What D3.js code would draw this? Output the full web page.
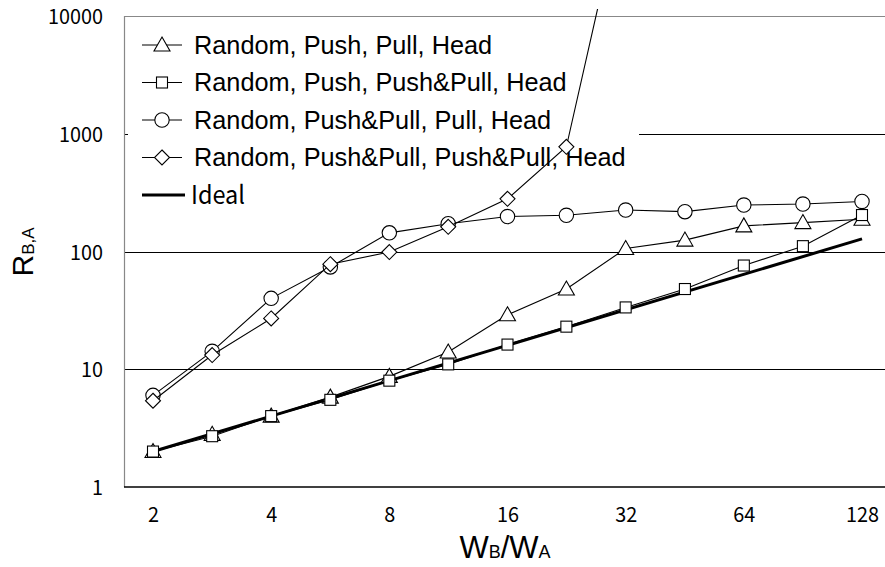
<!DOCTYPE html>
<html>
<head>
<meta charset="utf-8">
<script src="https://cdn.jsdelivr.net/npm/d3@7"></script>
<style>
  html, body { margin: 0; padding: 0; background: #fff; }
  svg { display: block; }
</style>
</head>
<body>
<svg id="chart" width="885" height="567"></svg>
<script>
// W_B / W_A ratios (x positions, half-octave steps)
const ratios = [2, 2.83, 4, 5.66, 8, 11.3, 16, 22.6, 32, 45.3, 64, 90.5, 128];
const xTickValues = [2, 4, 8, 16, 32, 64, 128];
const yTickValues = [1, 10, 100, 1000, 10000];

// R_B,A for each strategy
const pushPull = [2.0, 2.8, 4.0, 5.8, 8.7, 14, 29, 48, 106, 125, 165, 176, 188];
const pushPushPull = [2.0, 2.7, 4.0, 5.5, 8.0, 11, 16.2, 23, 33.5, 48, 76, 111, 204];
const pushPullPull = [6.0, 14.2, 40, 74, 144, 172, 198, 203, 225, 218, 248, 253, 266];
const pushPullPushPull = [5.4, 13.2, 27, 78, 99, 162, 280, 775, 130000];
const idealX = [2, 128];
const idealY = [2, 128];

const seriesNames = [
  "Random, Push, Pull, Head",
  "Random, Push, Push&Pull, Head",
  "Random, Push&Pull, Pull, Head",
  "Random, Push&Pull, Push&Pull, Head",
  "Ideal"
];
const markerKinds = ["triangle", "square", "circle", "diamond", null];
const seriesValues = [pushPull, pushPushPull, pushPullPull, pushPullPushPull];

const svg = d3.select("#chart");
const W = 885, H = 567;

const plot = { left: 124, top: 16, bottom: 487, right: 892 };

const x = d3.scaleLog().base(2).domain([2, 128]).range([153, 862]);
const y = d3.scaleLog().domain([1, 10000]).range([plot.bottom, plot.top]);

const tickFont = "'Noto Sans CJK JP', 'DejaVu Sans', sans-serif";

// gridlines at decades (10, 100, 1000)
svg.append("g")
  .selectAll("line")
  .data(yTickValues.filter(v => v > 1 && v < 10000))
  .join("line")
  .attr("x1", plot.left).attr("x2", W)
  .attr("y1", d => Math.round(y(d)) + 0.5).attr("y2", d => Math.round(y(d)) + 0.5)
  .attr("stroke", "#000").attr("stroke-width", 1);

// frame: top and left in grey, bottom axis in black
svg.append("line")
  .attr("x1", plot.left).attr("x2", W)
  .attr("y1", plot.top + 0.5).attr("y2", plot.top + 0.5)
  .attr("stroke", "#888").attr("stroke-width", 1.2);
svg.append("line")
  .attr("x1", plot.left + 0.5).attr("x2", plot.left + 0.5)
  .attr("y1", plot.top).attr("y2", plot.bottom)
  .attr("stroke", "#888").attr("stroke-width", 1.2);

// y axis labels
const yAxis = d3.axisLeft(y).tickValues(yTickValues).tickFormat(d3.format("d")).tickSize(0).tickPadding(0);
const gy = svg.append("g").attr("transform", `translate(103,0)`).call(yAxis);
gy.select(".domain").remove();
gy.selectAll("text")
  .attr("font-family", tickFont).attr("font-size", 20).attr("fill", "#000")
  .attr("dy", "0.38em")
  .attr("textLength", d => String(d).length * 11)
  .attr("lengthAdjust", "spacingAndGlyphs");

// x axis labels
const xAxis = d3.axisBottom(x).tickValues(xTickValues).tickFormat(d3.format("d")).tickSize(0).tickPadding(0);
const gx = svg.append("g").attr("transform", `translate(0,${plot.bottom})`).call(xAxis);
gx.select(".domain").remove();
gx.selectAll("text")
  .attr("font-family", tickFont).attr("font-size", 21).attr("fill", "#000")
  .attr("y", 0).attr("dy", "1.68em")
  .attr("textLength", d => String(d).length * 11)
  .attr("lengthAdjust", "spacingAndGlyphs");

svg.append("line")
  .attr("x1", plot.left).attr("x2", W)
  .attr("y1", plot.bottom).attr("y2", plot.bottom)
  .attr("stroke", "#000").attr("stroke-width", 1.5);

// legend (white panel sits over the gridlines, series lines draw over it)
const legend = svg.append("g");
legend.append("rect")
  .attr("x", 128).attr("y", 20).attr("width", 511).attr("height", 195)
  .attr("fill", "#fff");

const rowY = [45, 82.5, 120, 157.5, 195];

// marker drawing
function drawMarker(g, kind, cx, cy) {
  const s = { stroke: "#000", "stroke-width": 1.1, fill: "#fff" };
  let el;
  if (kind === "triangle") {
    el = g.append("path").attr("d", `M${cx},${cy - 8}L${cx + 8},${cy + 6}L${cx - 8},${cy + 6}Z`);
  } else if (kind === "square") {
    el = g.append("rect").attr("x", cx - 5.5).attr("y", cy - 5.5).attr("width", 11).attr("height", 11);
  } else if (kind === "circle") {
    el = g.append("circle").attr("cx", cx).attr("cy", cy).attr("r", 7.2);
  } else if (kind === "diamond") {
    el = g.append("path").attr("d", `M${cx},${cy - 7.5}L${cx + 7.5},${cy}L${cx},${cy + 7.5}L${cx - 7.5},${cy}Z`);
  }
  Object.entries(s).forEach(([k, v]) => el.attr(k, v));
}

seriesNames.forEach((name, i) => {
  const cy = rowY[i];
  const isIdeal = markerKinds[i] === null;
  legend.append("line")
    .attr("x1", 142).attr("x2", isIdeal ? 185 : 182)
    .attr("y1", cy).attr("y2", cy)
    .attr("stroke", "#000").attr("stroke-width", isIdeal ? 3 : 1.1);
  if (!isIdeal) drawMarker(legend, markerKinds[i], 162, cy);
  const t = legend.append("text")
    .attr("x", isIdeal ? 191 : 194).attr("y", cy)
    .attr("dy", "0.35em")
    .attr("fill", "#000")
    .text(name);
  if (isIdeal) {
    t.attr("font-family", "'Noto Sans CJK JP', sans-serif").attr("font-size", 25)
     .attr("textLength", 54).attr("lengthAdjust", "spacingAndGlyphs");
  } else {
    t.attr("font-family", "'Liberation Sans', Arial, sans-serif").attr("font-size", 25.3);
  }
});

// clip for series (the steep line runs a little past the top frame)
svg.append("defs").append("clipPath").attr("id", "plotClip")
  .append("rect").attr("x", plot.left).attr("y", 9).attr("width", W - plot.left).attr("height", plot.bottom - 9);

const series = svg.append("g").attr("clip-path", "url(#plotClip)");
const line = d3.line().x(d => x(d[0])).y(d => y(d[1]));

// ideal line first so markers sit above it
series.append("path")
  .attr("d", line(idealX.map((v, i) => [v, idealY[i]])))
  .attr("fill", "none").attr("stroke", "#000").attr("stroke-width", 3);

seriesValues.forEach((vals, i) => {
  const pts = vals.map((v, j) => [ratios[j], v]);
  const g = series.append("g");
  g.append("path").attr("d", line(pts))
    .attr("fill", "none").attr("stroke", "#000").attr("stroke-width", 1.1);
  pts.forEach(p => {
    if (y(p[1]) >= plot.top - 10) drawMarker(g, markerKinds[i], x(p[0]), y(p[1]));
  });
});

// axis titles
const yTitle = svg.append("text")
  .attr("transform", `translate(33,252) rotate(-90)`)
  .attr("text-anchor", "middle")
  .attr("font-family", "'Liberation Sans', Arial, sans-serif")
  .attr("fill", "#000");
yTitle.append("tspan").attr("font-size", 30).text("R");
yTitle.append("tspan").attr("font-size", 17).attr("dy", 1).text("B,A");

const xTitle = svg.append("text")
  .attr("x", 505).attr("y", 558)
  .attr("text-anchor", "middle")
  .attr("font-family", "'Liberation Sans', Arial, sans-serif")
  .attr("fill", "#000");
xTitle.append("tspan").attr("font-size", 31).text("W");
xTitle.append("tspan").attr("font-size", 18).text("B");
xTitle.append("tspan").attr("font-size", 31).text("/W");
xTitle.append("tspan").attr("font-size", 18).text("A");
</script>
</body>
</html>
